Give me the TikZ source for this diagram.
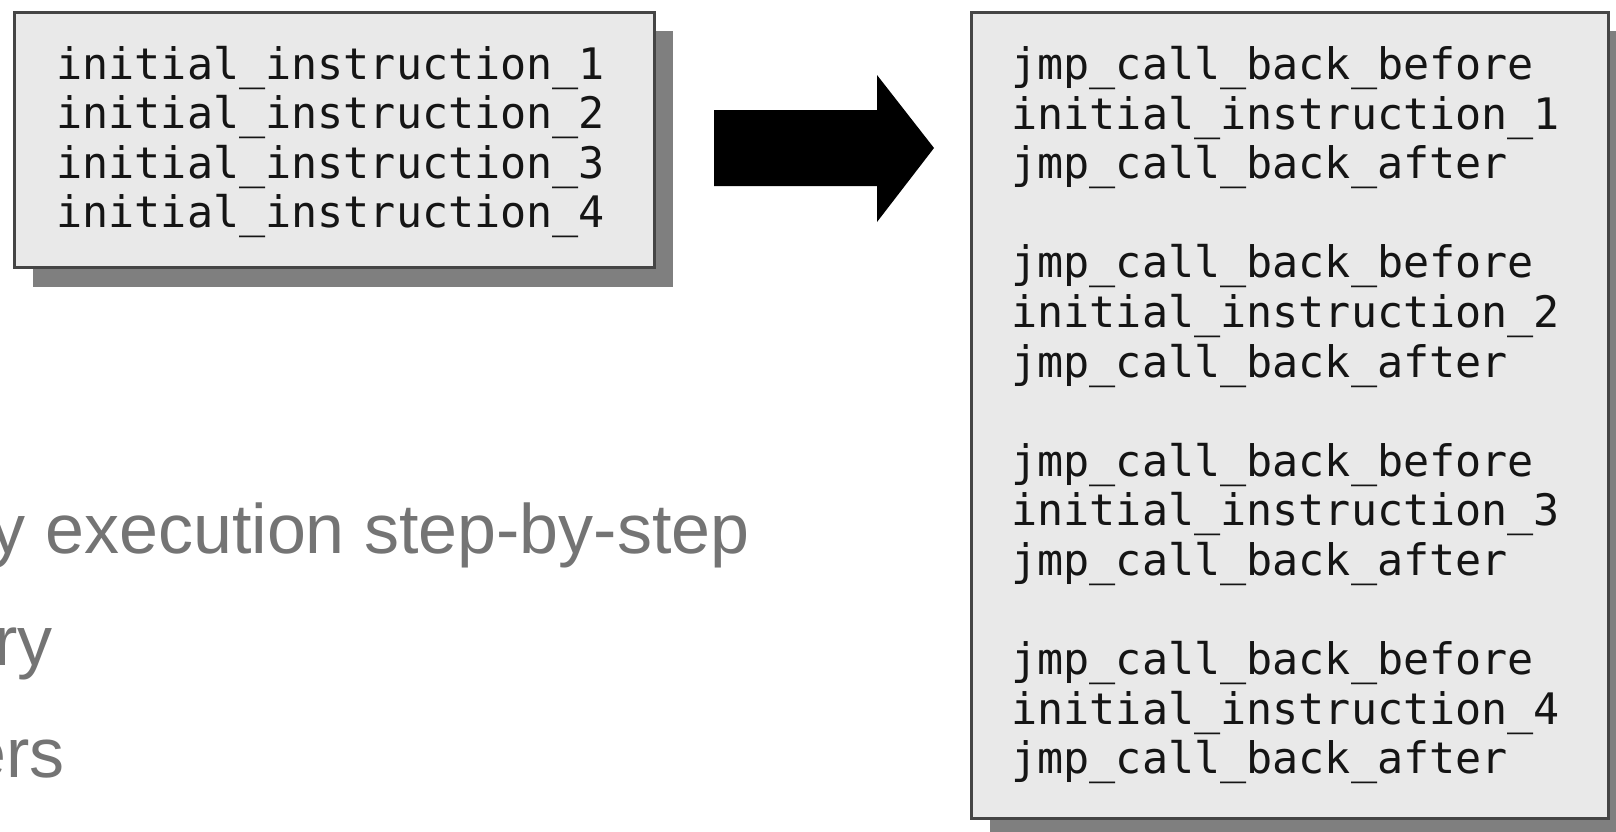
\documentclass[tikz,border=0pt]{standalone}
\usepackage{fontspec}
\setmainfont{Liberation Sans}
\newfontfamily\codefont{DejaVu Sans Mono}
\definecolor{boxfill}{HTML}{E9E9E9}
\definecolor{boxline}{HTML}{454545}
\definecolor{shadowgrey}{HTML}{7F7F7F}
\definecolor{bullettext}{HTML}{747474}
\definecolor{codetext}{HTML}{151515}
\begin{document}
\begin{tikzpicture}[x=0.5pt,y=-0.5pt,
  panel/.style={fill=boxfill, draw=boxline, line width=1.5pt},
  panelshadow/.style={fill=shadowgrey, draw=none},
  codeline/.style={anchor=base west, inner sep=0pt, text=codetext,
    font=\codefont\fontsize{21.7}{24.75}\selectfont},
  bulletline/.style={anchor=base east, inner sep=0pt, text=bullettext,
    font=\fontsize{35}{42}\selectfont},
  bigarrow/.style={fill=black, draw=none}]
\useasboundingbox (0,0) rectangle (1616,831);
\clip (0,0) rectangle (1616,831);
% left panel
\fill[panelshadow] (33,31) rectangle (673,287);
\draw[panel] (14,12) rectangle (654,267);
\foreach \t [count=\k from 0] in {initial\_instruction\_1,initial\_instruction\_2,initial\_instruction\_3,initial\_instruction\_4}
  \node[codeline] (l\k) at (56,{79.4+49.5*\k}) {\t};
% arrow
\fill[bigarrow] (714,110) -- (877,110) -- (877,75) -- (934,148) -- (877,222) -- (877,186) -- (714,186) -- cycle;
% right panel
\fill[panelshadow] (990,31) rectangle (1627,838);
\draw[panel] (971,12) rectangle (1608,818);
\foreach \g in {0,1,2,3}{
  \pgfmathtruncatemacro{\n}{\g+1}
  \node[codeline] (rb\g) at (1011,{79.4+49.6*(4*\g)}) {jmp\_call\_back\_before};
  \node[codeline] (ri\g) at (1011,{79.4+49.6*(4*\g+1)}) {initial\_instruction\_\n};
  \node[codeline] (ra\g) at (1011,{79.4+49.6*(4*\g+2)}) {jmp\_call\_back\_after};
}
% bullet text fragments (cut at the left edge, as in the reference)
\node[bulletline] (b1) at (750,553) {y execution step-by-step};
\node[bulletline] (b2) at (53,665) {ry};
\node[bulletline] (b3) at (65,777) {ers};
\end{tikzpicture}
\end{document}
